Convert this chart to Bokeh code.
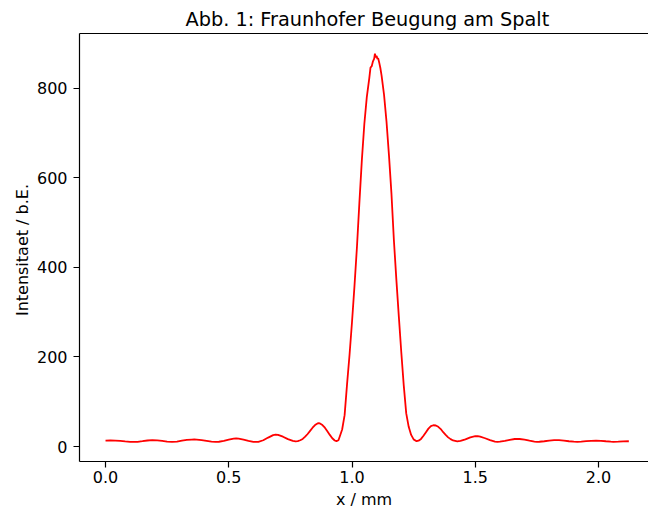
from bokeh.plotting import figure
from bokeh.models import Range1d, FixedTicker, LinearAxis, PrintfTickFormatter, ColumnDataSource
from bokeh.embed import file_html
from bokeh.resources import INLINE

# Position on the screen (mm) and measured intensity (arb. units)
x_mm = [
    0.00, 0.02, 0.04, 0.06, 0.08, 0.10, 0.114,
    0.13, 0.15, 0.17, 0.19, 0.21, 0.23, 0.25, 0.27,
    0.29, 0.31, 0.33, 0.35, 0.36, 0.37, 0.39, 0.41, 0.43, 0.447,
    0.46, 0.48, 0.50, 0.52, 0.53, 0.54, 0.56, 0.58, 0.60, 0.608,
    0.62, 0.64, 0.66, 0.68, 0.69, 0.70, 0.72, 0.74, 0.76, 0.771,
    0.78, 0.79, 0.80, 0.81, 0.82, 0.83, 0.84, 0.85, 0.86, 0.865, 0.87,
    0.88, 0.89, 0.90, 0.91, 0.92, 0.93, 0.937, 0.945,
    0.95, 0.96, 0.97, 0.98, 0.99, 1.00, 1.01, 1.02, 1.03, 1.04, 1.05,
    1.06, 1.07, 1.075, 1.08, 1.085, 1.09, 1.093, 1.096, 1.10, 1.103,
    1.106, 1.11, 1.115, 1.12, 1.13, 1.14, 1.15, 1.16, 1.17, 1.18, 1.19,
    1.20, 1.21, 1.22, 1.23, 1.24, 1.25, 1.262,
    1.27, 1.28, 1.29, 1.30, 1.31, 1.32, 1.33, 1.34, 1.35, 1.36, 1.37,
    1.38, 1.39, 1.40, 1.41, 1.427,
    1.44, 1.46, 1.48, 1.50, 1.51, 1.52, 1.54, 1.56, 1.58, 1.59, 1.60,
    1.62, 1.64, 1.66, 1.67, 1.68, 1.70, 1.72, 1.74, 1.75, 1.76,
    1.78, 1.80, 1.82, 1.83, 1.84, 1.86, 1.88, 1.90, 1.914,
    1.93, 1.95, 1.97, 1.99, 2.01, 2.03, 2.05, 2.06, 2.08, 2.10, 2.123,
]
intensity = [
    13.2, 13.5, 13.2, 12.5, 11.5, 10.6, 10.2,
    10.6, 12.0, 13.5, 14.2, 13.8, 12.5, 11.0, 10.2,
    11.0, 13.0, 14.8, 15.6, 15.7, 15.5, 14.5, 12.8, 11.0, 10.2,
    10.7, 12.5, 15.5, 17.8, 18.0, 17.5, 15.5, 12.8, 10.5, 10.2,
    10.5, 14.0, 20.0, 25.5, 26.5, 26.0, 22.0, 16.5, 12.5, 11.5,
    12.0, 14.0, 17.0, 22.0, 28.0, 35.0, 42.0, 48.0, 51.5, 52.0, 51.5,
    48.0, 42.0, 34.0, 26.0, 18.5, 13.5, 12.0, 14.0,
    22.0, 38.0, 70.0, 140.0, 205.0, 278.0, 358.0, 445.0, 545.0, 640.0, 720.0,
    780.0, 822.0, 846.0, 849.0, 860.0, 866.0, 877.0, 869.0, 872.0, 865.0,
    867.0, 858.0, 845.0, 828.0, 785.0, 725.0, 650.0, 565.0, 460.0, 372.0, 290.0,
    210.0, 136.0, 74.0, 44.0, 26.0, 16.0, 12.0,
    13.0, 17.0, 24.0, 32.0, 40.0, 45.5, 47.5, 47.0, 44.0, 39.0, 32.0,
    26.0, 20.5, 16.5, 13.5, 11.5,
    12.5, 16.0, 20.5, 23.0, 23.0, 22.0, 18.5, 14.5, 11.2, 10.5, 10.8,
    12.5, 15.0, 16.8, 17.0, 16.8, 15.5, 13.2, 11.0, 10.5, 10.7,
    11.8, 13.2, 14.2, 14.4, 14.2, 13.3, 11.8, 10.8, 10.5,
    11.0, 12.0, 12.8, 13.2, 12.8, 11.8, 10.9, 10.6, 10.8, 11.3, 11.8,
]

x_ticks = [0.0, 0.5, 1.0, 1.5, 2.0]
y_ticks = [0, 200, 400, 600, 800]

FONT = "DejaVu Sans"

p = figure(
    width=648, height=511,
    output_backend="svg", toolbar_location=None,
    x_range=Range1d(-0.1055, 2.2028), y_range=Range1d(-33.4, 922.0),
    x_axis_label="x / mm", y_axis_label="Intensitaet /  b.E.",
    title="Abb. 1: Fraunhofer Beugung am Spalt",
    min_border_left=79, min_border_right=0, min_border_top=33, min_border_bottom=49,
)
p.outline_line_color = None
p.xgrid.visible = False
p.ygrid.visible = False
p.background_fill_color = "white"
p.border_fill_color = "white"

p.title.align = "left"
p.title.offset = 106
p.title.text_font = FONT
p.title.text_font_size = "19.3px"
p.title.text_font_style = "normal"
p.title.text_color = "black"
p.title.standoff = 6

for ax in (p.xaxis[0], p.yaxis[0]):
    ax.axis_line_color = "black"
    ax.axis_line_width = 1.2
    ax.major_tick_line_color = "black"
    ax.major_tick_line_width = 1.2
    ax.major_tick_in = 0
    ax.major_tick_out = 6
    ax.minor_tick_line_color = None
    ax.major_label_text_font = FONT
    ax.major_label_text_font_size = "16px"
    ax.major_label_text_color = "black"
    ax.axis_label_text_font = FONT
    ax.axis_label_text_font_size = "16px"
    ax.axis_label_text_font_style = "normal"
    ax.axis_label_text_color = "black"

p.xaxis[0].ticker = FixedTicker(ticks=x_ticks)
p.xaxis[0].formatter = PrintfTickFormatter(format="%.1f")
p.xaxis[0].major_label_standoff = 3
p.xaxis[0].axis_label_standoff = 4
p.yaxis[0].ticker = FixedTicker(ticks=y_ticks)
p.yaxis[0].formatter = PrintfTickFormatter(format="%d")
p.yaxis[0].major_label_standoff = 6
p.yaxis[0].axis_label_standoff = 2

# top spine (right spine lies outside the visible area in the original)
top = LinearAxis(ticker=FixedTicker(ticks=[]), major_label_text_font_size="0px",
                 axis_line_color="black", axis_line_width=1.2,
                 major_tick_line_color=None, minor_tick_line_color=None)
p.add_layout(top, "above")

src = ColumnDataSource(dict(x=x_mm, y=intensity))
p.line("x", "y", source=src, line_color="#ff0000", line_width=1.8)

open("out.html", "w").write(file_html(p, INLINE))
